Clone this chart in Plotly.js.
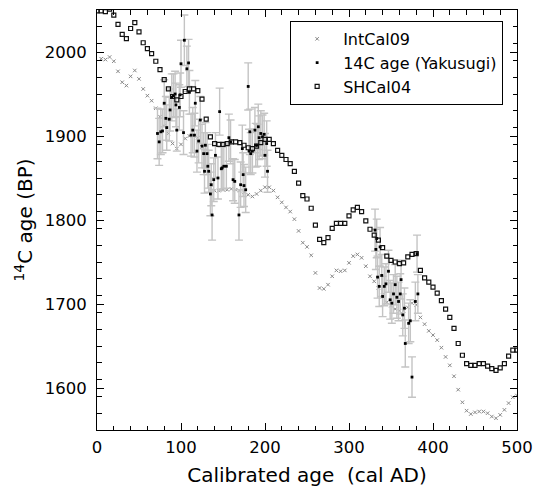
<!DOCTYPE html>
<html>
<head>
<meta charset="utf-8">
<script src="https://cdn.plot.ly/plotly-3.0.1.min.js"></script>
<style>html,body{margin:0;padding:0;background:#fff;}#chart{width:533px;height:494px;}</style>
</head>
<body>
<div id="chart"></div>
<script>
// IntCal09 (5-year grid)
var intcalX = [5,10,15,20,25,30,35,40,45,50,55,60,65,70,75,80,85,90,95,100,105,110,115,120,125,130,135,140,145,150,155,160,165,170,175,180,185,190,195,200,205,210,215,220,225,230,235,240,245,250,255,260,265,270,275,280,285,290,295,300,305,310,315,320,325,330,335,340,345,350,355,360,365,370,375,380,385,390,395,400,405,410,415,420,425,430,435,440,445,450,455,460,465,470,475,480,485,490,495,500];
var intcalY = [1992,1991,1994,1989,1977,1964,1960,1971,1978,1968,1956,1948,1942,1933,1923,1912,1903,1891,1885,1890,1897,1900,1900,1898,1887,1864,1842,1835,1835,1836,1836,1837,1836,1835,1833,1830,1828,1831,1835,1839,1839,1835,1827,1821,1815,1810,1801,1787,1773,1768,1758,1737,1719,1718,1723,1733,1740,1739,1740,1749,1757,1759,1755,1745,1733,1727,1719,1711,1702,1698,1694,1692,1692,1696,1701,1699,1684,1676,1668,1663,1657,1648,1637,1627,1614,1598,1583,1573,1569,1571,1572,1572,1570,1566,1564,1568,1574,1582,1589,1591];

// 14C age (Yakusugi)
var yakX = [72,74,76,78,80,82,83,86,87,89,91,93,94,95,98,99,100,103,104,107,109,110,112,114,116,117,119,121,123,125,127,128,129,131,132,133,135,136,137,139,141,144,146,148,149,151,154,157,159,162,164,169,171,173,174,175,177,180,181,182,183,185,188,189,191,192,193,195,197,199,200,202,203,
331,332,333,334,336,337,339,340,342,344,347,349,351,353,355,357,359,361,362,364,366,367,371,373,375,379,381,382];
var yakY = [1903,1893,1905,1906,1939,1921,1910,1920,1931,1946,1948,1950,1937,1907,1934,1949,1986,1904,2014,1980,1987,1952,1901,1907,1901,1939,1882,1894,1919,1888,1879,1858,1889,1879,1864,1858,1831,1842,1806,1848,1877,1850,1929,1861,1862,1864,1864,1898,1893,1848,1846,1806,1842,1885,1854,1841,1836,1959,1882,1905,1879,1882,1907,1889,1889,1911,1898,1903,1899,1902,1877,1891,1858,
1788,1765,1778,1732,1721,1768,1734,1709,1721,1724,1739,1705,1701,1712,1723,1708,1703,1712,1729,1687,1695,1653,1677,1680,1613,1703,1760,1712];
var yakErr = [30,28,27,26,28,26,27,26,25,28,26,27,26,25,27,26,28,26,30,27,28,26,25,27,26,27,25,26,28,26,25,26,27,25,26,25,26,25,30,26,27,25,28,26,25,27,26,28,26,25,26,30,27,28,26,25,27,28,26,27,25,26,27,26,25,27,26,27,26,25,26,27,25,
25,24,23,25,24,23,25,24,23,24,25,23,24,23,24,25,23,24,23,25,24,28,24,25,24,23,22,23];

// SHCal04 (5-year grid)
var shcalX = [0,5,10,15,20,25,30,35,40,45,50,55,60,65,70,75,80,85,90,95,100,105,110,115,120,125,130,135,140,145,150,155,160,165,170,175,180,185,190,195,200,205,210,215,220,225,230,235,240,245,250,255,260,265,270,275,280,285,290,295,300,305,310,315,320,325,330,335,340,345,350,355,360,365,370,375,380,385,390,395,400,405,410,415,420,425,430,435,440,445,450,455,460,465,470,475,480,485,490,495,500];
var shcalY = [2049,2049,2048,2051,2044,2033,2021,2016,2028,2035,2024,2011,2004,1998,1989,1979,1967,1956,1947,1943,1947,1953,1956,1956,1954,1944,1920,1899,1891,1890,1890,1891,1893,1893,1892,1889,1886,1885,1888,1892,1896,1896,1891,1883,1877,1872,1867,1858,1844,1829,1825,1814,1794,1777,1773,1779,1790,1796,1796,1796,1805,1812,1815,1810,1799,1789,1782,1776,1767,1757,1752,1750,1748,1749,1756,1759,1760,1740,1731,1726,1720,1713,1704,1694,1684,1671,1653,1639,1629,1627,1627,1629,1629,1626,1623,1621,1624,1629,1638,1645,1645];

var xTicks = [0,100,200,300,400,500];
var yTicks = [1600,1700,1800,1900,2000];

var FONT = 'DejaVu Sans, Verdana, sans-serif';

var traces = [
  {
    x: intcalX, y: intcalY, name: 'IntCal09', type: 'scatter', mode: 'markers',
    marker: {symbol: 'x-thin-open', size: 3.5, color: '#888', line: {width: 1, color: '#888'}}
  },
  {
    x: yakX, y: yakY, name: '14C age (Yakusugi)', type: 'scatter', mode: 'markers',
    marker: {symbol: 'square', size: 2.8, color: '#000'},
    error_y: {type: 'data', array: yakErr, visible: true, color: '#c4c4c4', thickness: 1.4, width: 4}
  },
  {
    x: shcalX, y: shcalY, name: 'SHCal04', type: 'scatter', mode: 'markers',
    marker: {symbol: 'square-open', size: 4, color: '#111', line: {width: 1.2, color: '#111'}}
  }
];

var axisCommon = {
  showline: true, linecolor: '#000', linewidth: 1, mirror: 'ticks',
  ticks: 'inside', ticklen: 7, tickwidth: 1, tickcolor: '#000',
  showgrid: false, zeroline: false,
  tickfont: {family: FONT, size: 16.5, color: '#000'}
};

var layout = {
  width: 533, height: 494,
  margin: {l: 97, r: 16, t: 10, b: 64},
  paper_bgcolor: '#fff', plot_bgcolor: '#fff',
  showlegend: true,
  legend: {
    x: 0.967, y: 0.974, xanchor: 'right', yanchor: 'top',
    bordercolor: '#000', borderwidth: 1, bgcolor: '#fff',
    font: {family: FONT, size: 16, color: '#000'},
    tracegroupgap: 0, itemwidth: 42
  },
  xaxis: Object.assign({}, axisCommon, {
    range: [0, 500], tickvals: xTicks, ticktext: xTicks.map(String),
    ticklabelstandoff: 2,
    minor: {dtick: 20, tick0: 0, ticks: 'inside', ticklen: 4.5, tickcolor: '#000', tickwidth: 1},
    title: {text: 'Calibrated age  (cal AD)', font: {family: FONT, size: 20, color: '#000'}, standoff: 12}
  }),
  yaxis: Object.assign({}, axisCommon, {
    range: [1550, 2050], tickvals: yTicks, ticktext: yTicks.map(String),
    ticklabelstandoff: 6,
    minor: {dtick: 20, tick0: 1550, ticks: 'inside', ticklen: 4.5, tickcolor: '#000', tickwidth: 1},
    title: {text: '<sup>14</sup>C age (BP)', font: {family: FONT, size: 20, color: '#000'}, standoff: 6}
  })
};

Plotly.newPlot('chart', traces, layout, {displayModeBar: false, staticPlot: true});
</script>
</body>
</html>
